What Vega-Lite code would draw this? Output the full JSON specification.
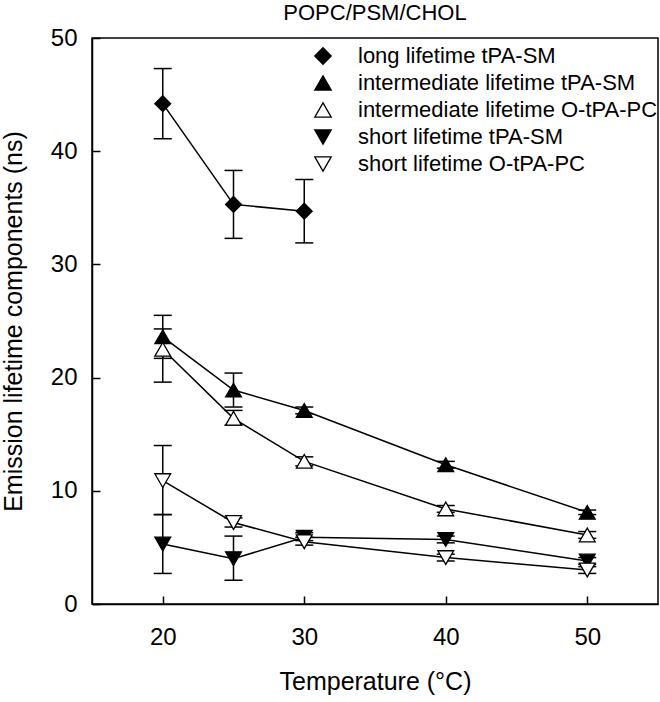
{
  "$schema": "https://vega.github.io/schema/vega-lite/v6.json",
  "autosize": {"type": "none"},
  "width": 566,
  "height": 566,
  "padding": {"left": 92, "top": 38, "right": 2, "bottom": 98},
  "background": "white",
  "title": {"text": "POPC/PSM/CHOL", "fontSize": 22, "font": "Liberation Sans", "fontWeight": "normal", "color": "black", "offset": 1, "anchor": "middle"},
  "config": {"view": {"stroke": "black", "strokeWidth": 1.5}, "font": "Liberation Sans"},
  "data": {"values": [
    {"series": "long lifetime tPA-SM", "T": 20, "v": 44.2, "lo": 41.1, "hi": 47.3},
    {"series": "long lifetime tPA-SM", "T": 25, "v": 35.3, "lo": 32.3, "hi": 38.3},
    {"series": "long lifetime tPA-SM", "T": 30, "v": 34.7, "lo": 31.9, "hi": 37.5},
    {"series": "intermediate lifetime tPA-SM", "T": 20, "v": 23.6, "lo": 21.7, "hi": 25.5},
    {"series": "intermediate lifetime tPA-SM", "T": 25, "v": 18.9, "lo": 17.4, "hi": 20.4},
    {"series": "intermediate lifetime tPA-SM", "T": 30, "v": 17.1, "lo": 16.8, "hi": 17.4},
    {"series": "intermediate lifetime tPA-SM", "T": 40, "v": 12.3, "lo": 12.0, "hi": 12.6},
    {"series": "intermediate lifetime tPA-SM", "T": 50, "v": 8.1, "lo": 7.9, "hi": 8.3},
    {"series": "intermediate lifetime O-tPA-PC", "T": 20, "v": 22.5, "lo": 19.6, "hi": 24.3},
    {"series": "intermediate lifetime O-tPA-PC", "T": 25, "v": 16.4, "lo": 15.8, "hi": 17.1},
    {"series": "intermediate lifetime O-tPA-PC", "T": 30, "v": 12.6, "lo": 12.2, "hi": 13.0},
    {"series": "intermediate lifetime O-tPA-PC", "T": 40, "v": 8.4, "lo": 8.1, "hi": 8.7},
    {"series": "intermediate lifetime O-tPA-PC", "T": 50, "v": 6.1, "lo": 5.8, "hi": 6.4},
    {"series": "short lifetime tPA-SM", "T": 20, "v": 5.3, "lo": 2.7, "hi": 7.9},
    {"series": "short lifetime tPA-SM", "T": 25, "v": 4.0, "lo": 2.1, "hi": 6.0},
    {"series": "short lifetime tPA-SM", "T": 30, "v": 5.9, "lo": 5.6, "hi": 6.3},
    {"series": "short lifetime tPA-SM", "T": 40, "v": 5.7, "lo": 5.4, "hi": 6.0},
    {"series": "short lifetime tPA-SM", "T": 50, "v": 3.8, "lo": 3.5, "hi": 4.1},
    {"series": "short lifetime O-tPA-PC", "T": 20, "v": 10.9, "lo": 7.9, "hi": 14.0},
    {"series": "short lifetime O-tPA-PC", "T": 25, "v": 7.2, "lo": 6.8, "hi": 7.6},
    {"series": "short lifetime O-tPA-PC", "T": 30, "v": 5.5, "lo": 5.2, "hi": 5.9},
    {"series": "short lifetime O-tPA-PC", "T": 40, "v": 4.1, "lo": 3.8, "hi": 4.4},
    {"series": "short lifetime O-tPA-PC", "T": 50, "v": 3.0, "lo": 2.7, "hi": 3.3}
  ]},
  "encoding": {
    "x": {"field": "T", "type": "quantitative",
      "scale": {"domain": [15, 55], "nice": false, "zero": false},
      "axis": {"title": "Temperature (°C)", "values": [20, 30, 40, 50], "grid": false,
        "tickSize": -8, "tickWidth": 1.5, "tickColor": "black", "domainColor": "black", "domainWidth": 1.5,
        "labelFontSize": 24, "labelColor": "black", "labelPadding": 29,
        "titleFontSize": 25, "titleFontWeight": "normal", "titleColor": "black", "titlePadding": 20}}
  },
  "layer": [
    {"mark": {"type": "line", "color": "black", "strokeWidth": 1.5},
     "encoding": {
       "y": {"field": "v", "type": "quantitative",
         "scale": {"domain": [0, 50], "nice": false},
         "axis": {"title": "Emission lifetime components (ns)", "values": [0, 10, 20, 30, 40, 50], "grid": false,
           "tickSize": -8, "tickWidth": 1.5, "tickColor": "black", "domainColor": "black", "domainWidth": 1.5,
           "labelFontSize": 24, "labelColor": "black", "labelPadding": 23,
           "titleFontSize": 25, "titleFontWeight": "normal", "titleColor": "black", "titlePadding": 24}},
       "detail": {"field": "series"}}},
    {"mark": {"type": "rule", "color": "black", "strokeWidth": 1.5},
     "encoding": {"y": {"field": "lo", "type": "quantitative"}, "y2": {"field": "hi"}}},
    {"mark": {"type": "tick", "orient": "horizontal", "color": "black", "size": 18, "thickness": 1.5, "opacity": 1},
     "encoding": {"y": {"field": "lo", "type": "quantitative"}}},
    {"mark": {"type": "tick", "orient": "horizontal", "color": "black", "size": 18, "thickness": 1.5, "opacity": 1},
     "encoding": {"y": {"field": "hi", "type": "quantitative"}}},
    {"mark": {"type": "point", "filled": true, "stroke": "black", "strokeWidth": 1.3, "opacity": 1, "size": 250},
     "encoding": {
       "y": {"field": "v", "type": "quantitative"},
       "shape": {"field": "series", "type": "nominal",
         "scale": {"domain": ["long lifetime tPA-SM", "intermediate lifetime tPA-SM", "intermediate lifetime O-tPA-PC", "short lifetime tPA-SM", "short lifetime O-tPA-PC"],
                   "range": ["diamond", "triangle-up", "triangle-up", "triangle-down", "triangle-down"]},
         "legend": {"orient": "none", "legendX": 220, "legendY": 7, "title": null, "padding": 0,
           "labelFontSize": 22, "labelColor": "black", "labelOffset": 24, "rowPadding": 5, "labelLimit": 0,
           "symbolSize": 270, "symbolStrokeWidth": 1.3}},
       "fill": {"field": "series", "type": "nominal",
         "scale": {"domain": ["long lifetime tPA-SM", "intermediate lifetime tPA-SM", "intermediate lifetime O-tPA-PC", "short lifetime tPA-SM", "short lifetime O-tPA-PC"],
                   "range": ["black", "black", "white", "black", "white"]},
         "legend": {"orient": "none", "legendX": 220, "legendY": 7, "title": null, "padding": 0,
           "labelFontSize": 22, "labelColor": "black", "labelOffset": 24, "rowPadding": 5, "labelLimit": 0,
           "symbolSize": 270, "symbolStrokeWidth": 1.3}}
     }}
  ]
}
